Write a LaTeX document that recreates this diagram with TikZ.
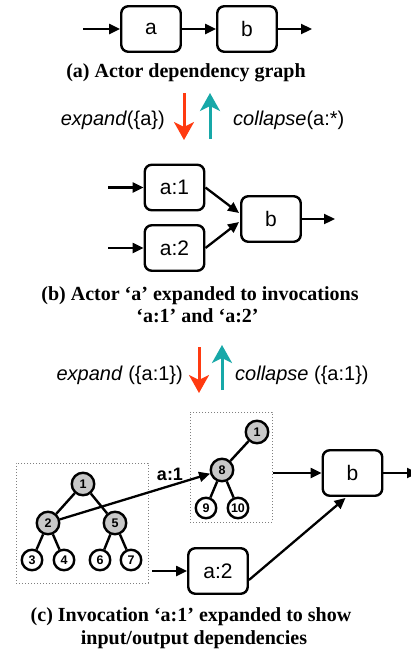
\documentclass[tikz,border=0pt]{standalone}
\usepackage{fontspec}
\setmainfont{Liberation Serif}
\setsansfont{Liberation Sans}
\usetikzlibrary{arrows.meta,calc}
\definecolor{expcol}{HTML}{FF3A10}
\definecolor{colcol}{HTML}{17A8A8}
\definecolor{vgray}{HTML}{C8C8C8}
\begin{document}
\begin{tikzpicture}[x=1pt,y=-1pt,
  actor/.style={draw, line width=2.4pt, rounded corners=7pt, minimum width=59.5pt,
    minimum height=45.5pt, inner sep=0pt, font=\sffamily\fontsize{21}{21}\selectfont},
  flow/.style={line width=2.3pt, -{Triangle[length=11pt,width=10pt]}},
  region/.style={draw=gray, dotted, line width=1pt, inner sep=0pt},
  vtx/.style={circle, draw, line width=2.4pt, inner sep=0pt,
    font=\sffamily\bfseries\fontsize{12.5}{12.5}\selectfont},
  grayv/.style={vtx, fill=vgray, minimum size=22.5pt},
  leafv/.style={vtx, fill=white, minimum size=20.5pt},
  tedge/.style={line width=2.4pt},
  capline/.style={font=\bfseries\fontsize{20}{20}\selectfont, anchor=base, inner sep=0pt},
  oplabel/.style={font=\sffamily\fontsize{20}{20}\selectfont, anchor=base, inner sep=0pt},
  downarrow/.style={draw=expcol, line width=3pt, -{Stealth[length=18pt,width=20pt,inset=5pt]}},
  uparrow/.style={draw=colcol, line width=3pt, -{Stealth[length=18pt,width=20pt,inset=5pt]}},
]
\useasboundingbox (0,0) rectangle (411,654);

% ---- (a) actor dependency graph
\node[actor] (a) at (151,29) {a};
\node[actor] (b) at (247,29) {b};
\coordinate (ain) at (83,29);
\coordinate (bout) at (312,29);
\draw[flow] (ain) -- (a);
\draw[flow] (a) -- (b);
\draw[flow] (b) -- (bout);
\node[capline] (capa) at (186,77.5) {(a) Actor dependency graph};

% expand / collapse between (a) and (b)
\coordinate (e1s) at (184,93);  \coordinate (e1e) at (184,140);
\coordinate (c1s) at (210,139); \coordinate (c1e) at (210,93);
\draw[downarrow] (e1s) -- (e1e);
\draw[uparrow] (c1s) -- (c1e);
\node[oplabel, anchor=base east] (exp1) at (165,125) {\textit{expand}(\{a\})};
\node[oplabel, anchor=base west] (col1) at (233,125) {\textit{collapse}(a:*)};

% ---- (b) invocations a:1 and a:2
\node[actor] (a1) at (174.5,187.5) {a:1};
\node[actor] (a2) at (174.5,248) {a:2};
\node[actor] (b2) at (271,219) {b};
\coordinate (a1in) at (108,187.5);
\coordinate (a2in) at (108,248);
\coordinate (b2out) at (335,219);
\draw[flow] (a1in) -- (a1);
\draw[flow] (a2in) -- (a2);
\draw[flow] (a1.east) -- ($(b2.west)+(-1,-6)$);
\draw[flow] (a2.east) -- ($(b2.west)+(-1,3)$);
\draw[flow] (b2) -- (b2out);
\node[capline] (capb1) at (200,300) {(b) Actor `a' expanded to invocations};
\node[capline] (capb2) at (197.5,322.7) {`a:1' and `a:2'};

% expand / collapse between (b) and (c)
\coordinate (e2s) at (199,347); \coordinate (e2e) at (199,393);
\coordinate (c2s) at (222,390); \coordinate (c2e) at (222,345);
\draw[downarrow] (e2s) -- (e2e);
\draw[uparrow] (c2s) -- (c2e);
\node[oplabel, anchor=base east] (exp2) at (183,380) {\textit{expand} (\{a:1\})};
\node[oplabel, anchor=base west] (col2) at (235,380) {\textit{collapse} (\{a:1\})};

% ---- (c) invocation a:1 expanded
\node[region, minimum width=132pt, minimum height=120pt] (lbox) at (82,523) {};
\node[region, minimum width=82pt, minimum height=110pt] (rbox) at (231,467) {};

% left tree
\node[grayv] (t1) at (83,484) {1};
\node[grayv] (t2) at (48,523) {2};
\node[grayv] (t5) at (115,523) {5};
\node[leafv] (t3) at (32,560) {3};
\node[leafv] (t4) at (64,560) {4};
\node[leafv] (t6) at (100,560) {6};
\node[leafv] (t7) at (131,560) {7};
\draw[tedge] (t1) -- (t2);
\draw[tedge] (t1) -- (t5);
\draw[tedge] (t2) -- (t3);
\draw[tedge] (t2) -- (t4);
\draw[tedge] (t5) -- (t6);
\draw[tedge] (t5) -- (t7);

% right tree
\node[grayv] (u1) at (257,432) {1};
\node[grayv] (u8) at (222,470) {8};
\node[leafv] (u9) at (206,508) {9};
\node[leafv] (u10) at (238,508) {10};
\draw[tedge] (u1) -- (u8);
\draw[tedge] (u8) -- (u9);
\draw[tedge] (u8) -- (u10);

% dependency of a:1 on node 2
\draw[flow] (t2) -- (u8);
\node[font=\sffamily\bfseries\fontsize{18}{18}\selectfont, inner sep=0pt] (lbl) at (170,474) {a:1};

\node[actor] (b3) at (352.5,473) {b};
\node[actor] (a3) at (218,571) {a:2};
\coordinate (b3out) at (418,473);
\coordinate (lout) at (152,571);
\draw[flow] (rbox.east |- b3.west) -- (b3.west);
\draw[flow] (b3) -- (b3out);
\draw[flow] (lout) -- (a3.west);
\draw[flow] ($(a3.east)+(0,9)$) -- ($(b3.south)+(-7,1)$);

\node[capline] (capc1) at (191,621.7) {(c) Invocation `a:1' expanded to show};
\node[capline] (capc2) at (194,644.3) {input/output dependencies};
\end{tikzpicture}
\end{document}
